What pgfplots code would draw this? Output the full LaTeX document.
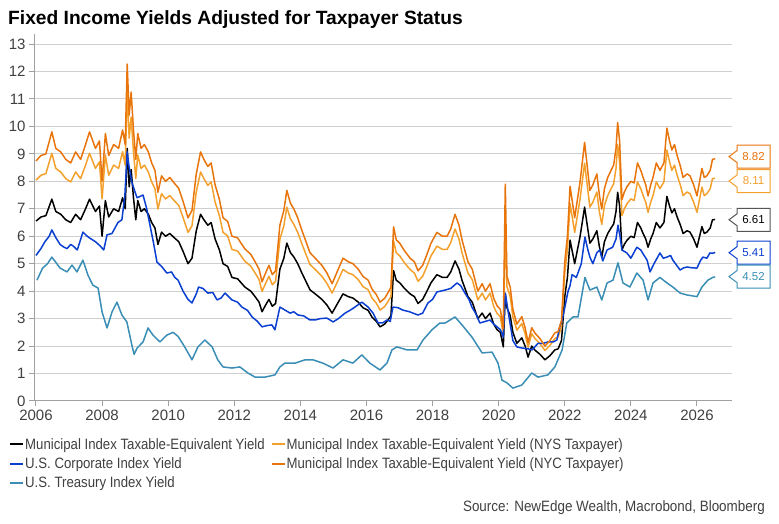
\documentclass[border=0pt]{standalone}
\usepackage{fontspec}
\setmainfont{Liberation Sans}
\newfontfamily\narrowfont{Liberation Sans}[FakeStretch=0.88]
\newfontfamily\srcfont{Liberation Sans}[FakeStretch=0.895]
\usepackage{pgfplots}
\pgfplotsset{compat=1.18}
\usepackage{pgfplotstable}

\definecolor{nysorange}{HTML}{F4A02C}
\definecolor{nycorange}{HTML}{E8740C}
\definecolor{corpblue}{HTML}{0B3FD1}
\definecolor{tsyteal}{HTML}{3A8EB5}
\definecolor{txt}{HTML}{404040}
\definecolor{gridc}{HTML}{CFCFCF}
\definecolor{axisc}{HTML}{A0A0A0}
\definecolor{boxgray}{HTML}{555555}

\pgfplotstableread{
year muni nys nyc
2006.00 6.55 8.04 8.74
2006.15 6.70 8.22 8.94
2006.30 6.75 8.28 9.00
2006.48 7.35 9.02 9.80
2006.60 6.90 8.47 9.20
2006.75 6.80 8.34 9.07
2006.90 6.60 8.10 8.80
2007.05 6.50 7.98 8.67
2007.20 6.80 8.34 9.07
2007.35 6.60 8.10 8.80
2007.50 7.00 8.59 9.34
2007.62 7.35 9.02 9.80
2007.80 6.90 8.47 9.20
2007.92 7.10 8.71 9.47
2008.00 6.00 7.36 8.00
2008.10 7.30 8.96 9.74
2008.20 6.70 8.22 8.94
2008.35 7.00 8.59 9.34
2008.50 6.90 8.47 9.20
2008.62 7.40 9.08 9.87
2008.70 7.00 8.59 9.34
2008.76 9.20 11.29 12.27
2008.82 7.80 9.57 10.41
2008.88 8.43 10.34 11.25
2008.95 7.40 9.08 9.87
2009.02 6.60 8.10 8.80
2009.08 7.30 8.96 9.74
2009.18 6.90 8.47 9.20
2009.28 7.00 8.59 9.34
2009.40 6.80 8.34 9.07
2009.50 6.50 7.98 8.67
2009.60 6.30 7.73 8.40
2009.69 5.70 6.99 7.60
2009.80 6.15 7.55 8.20
2009.92 6.00 7.36 8.00
2010.05 6.10 7.48 8.14
2010.18 5.95 7.30 7.94
2010.32 5.80 7.12 7.74
2010.45 5.45 6.69 7.27
2010.60 5.00 6.14 6.67
2010.72 5.20 6.38 6.94
2010.85 6.20 7.61 8.27
2010.98 6.80 8.34 9.07
2011.08 6.60 8.10 8.80
2011.20 6.40 7.85 8.54
2011.30 6.50 7.98 8.67
2011.42 5.90 7.24 7.87
2011.55 5.50 6.75 7.34
2011.66 5.00 6.14 6.67
2011.80 4.90 6.01 6.54
2011.93 4.50 5.52 6.00
2012.10 4.45 5.46 5.94
2012.32 4.15 5.09 5.54
2012.50 4.00 4.91 5.34
2012.63 3.80 4.66 5.07
2012.75 3.60 4.42 4.80
2012.84 3.25 3.99 4.34
2012.95 3.50 4.29 4.67
2013.05 3.70 4.54 4.94
2013.15 3.45 4.23 4.60
2013.25 3.55 4.36 4.74
2013.38 4.80 5.89 6.40
2013.50 5.20 6.38 6.94
2013.59 5.75 7.06 7.67
2013.70 5.40 6.63 7.20
2013.80 5.25 6.44 7.00
2013.92 5.00 6.14 6.67
2014.05 4.65 5.71 6.20
2014.15 4.40 5.40 5.87
2014.29 4.05 4.97 5.40
2014.45 3.90 4.79 5.20
2014.65 3.70 4.54 4.94
2014.80 3.50 4.29 4.67
2014.96 3.20 3.93 4.27
2015.10 3.50 4.29 4.67
2015.29 3.90 4.79 5.20
2015.45 3.80 4.66 5.07
2015.59 3.75 4.60 5.00
2015.75 3.60 4.42 4.80
2015.89 3.40 4.17 4.54
2016.05 3.30 4.05 4.40
2016.17 3.05 3.74 4.07
2016.30 2.90 3.56 3.87
2016.41 2.70 3.31 3.60
2016.55 2.80 3.44 3.74
2016.65 2.95 3.62 3.94
2016.74 3.10 3.80 4.14
2016.82 4.75 5.83 6.34
2016.90 4.40 5.40 5.87
2017.01 4.30 5.28 5.74
2017.15 4.10 5.03 5.47
2017.32 3.90 4.79 5.20
2017.45 3.80 4.66 5.07
2017.56 3.55 4.36 4.74
2017.70 3.70 4.54 4.94
2017.83 4.00 4.91 5.34
2017.95 4.30 5.28 5.74
2018.13 4.60 5.64 6.14
2018.30 4.50 5.52 6.00
2018.44 4.50 5.52 6.00
2018.55 4.70 5.77 6.27
2018.68 5.10 6.26 6.80
2018.80 4.80 5.89 6.40
2018.89 4.40 5.40 5.87
2019.07 3.80 4.66 5.07
2019.20 3.60 4.42 4.80
2019.37 3.00 3.68 4.00
2019.50 3.20 3.93 4.27
2019.60 3.00 3.68 4.00
2019.74 3.20 3.93 4.27
2019.85 2.80 3.44 3.74
2019.95 2.60 3.19 3.47
2020.05 2.50 3.07 3.34
2020.14 1.97 2.42 2.63
2020.20 3.90 6.40 7.90
2020.25 3.40 4.17 4.54
2020.35 3.10 3.80 4.14
2020.43 2.50 3.07 3.34
2020.55 2.10 2.58 2.80
2020.70 2.30 2.82 3.07
2020.80 2.00 2.45 2.67
2020.89 1.60 1.96 2.13
2021.00 2.00 2.45 2.67
2021.10 1.85 2.27 2.47
2021.25 1.70 2.09 2.27
2021.40 1.50 1.84 2.00
2021.55 1.65 2.02 2.20
2021.70 1.86 2.28 2.48
2021.80 1.90 2.33 2.53
2021.90 2.20 2.70 2.93
2022.00 3.80 4.66 5.07
2022.08 4.50 5.52 6.00
2022.16 5.86 7.19 7.82
2022.30 5.00 6.14 6.67
2022.46 5.97 7.33 7.96
2022.60 7.06 8.66 9.42
2022.68 6.40 7.85 8.54
2022.76 5.75 7.06 7.67
2022.85 5.90 7.24 7.87
2022.97 6.20 7.61 8.27
2023.05 5.60 6.87 7.47
2023.12 5.24 6.43 6.99
2023.20 5.80 7.12 7.74
2023.30 6.10 7.48 8.14
2023.40 6.30 7.73 8.40
2023.48 6.45 7.91 8.60
2023.55 6.90 8.47 9.20
2023.60 7.60 9.33 10.14
2023.66 7.10 8.71 9.47
2023.73 5.50 6.75 7.34
2023.80 5.70 6.99 7.60
2023.88 5.85 7.18 7.80
2024.00 6.00 7.36 8.00
2024.10 5.95 7.30 7.94
2024.20 6.50 7.98 8.67
2024.30 6.30 7.73 8.40
2024.37 6.10 7.48 8.14
2024.45 5.90 7.24 7.87
2024.52 5.60 6.87 7.47
2024.60 5.90 7.24 7.87
2024.67 6.10 7.48 8.14
2024.77 6.50 7.98 8.67
2024.88 6.30 7.73 8.40
2025.00 6.50 7.98 8.67
2025.09 7.45 9.14 9.94
2025.17 7.10 8.71 9.47
2025.24 6.85 8.40 9.14
2025.32 7.00 8.59 9.34
2025.40 6.70 8.22 8.94
2025.50 6.40 7.85 8.54
2025.58 6.10 7.48 8.14
2025.70 6.20 7.61 8.27
2025.79 6.15 7.55 8.20
2025.90 5.90 7.24 7.87
2026.00 5.60 6.87 7.47
2026.08 6.00 7.36 8.00
2026.15 6.35 7.79 8.47
2026.22 6.10 7.48 8.14
2026.30 6.15 7.55 8.20
2026.40 6.30 7.73 8.40
2026.47 6.60 8.10 8.80
2026.55 6.61 8.11 8.82
}\munitable

\pgfplotstableread{
year corp
2006.00 5.30
2006.15 5.55
2006.27 5.80
2006.40 6.00
2006.48 6.23
2006.60 5.95
2006.73 5.70
2006.85 5.60
2006.94 5.55
2007.05 5.70
2007.12 5.65
2007.25 5.50
2007.42 6.15
2007.55 6.00
2007.63 5.93
2007.80 5.80
2007.94 5.65
2008.05 5.50
2008.15 6.05
2008.30 6.10
2008.48 6.50
2008.60 6.60
2008.69 7.50
2008.76 9.07
2008.82 8.50
2008.90 7.97
2009.00 7.60
2009.06 7.40
2009.24 7.50
2009.35 7.00
2009.45 6.40
2009.55 5.80
2009.66 5.06
2009.80 4.90
2009.96 4.66
2010.10 4.70
2010.20 4.50
2010.30 4.40
2010.45 4.00
2010.60 3.70
2010.72 3.57
2010.85 3.90
2010.92 4.15
2011.05 4.10
2011.20 3.93
2011.35 3.95
2011.48 3.68
2011.60 3.75
2011.72 3.93
2011.93 3.68
2012.10 3.60
2012.23 3.42
2012.40 3.30
2012.54 3.06
2012.70 2.90
2012.84 2.70
2013.00 2.75
2013.14 2.77
2013.23 2.59
2013.38 3.42
2013.55 3.30
2013.69 3.20
2013.80 3.25
2013.93 3.13
2014.10 3.10
2014.29 2.95
2014.45 2.95
2014.60 3.00
2014.80 3.02
2014.99 2.88
2015.15 3.00
2015.35 3.20
2015.50 3.30
2015.65 3.42
2015.86 3.60
2016.05 3.42
2016.20 3.20
2016.35 2.84
2016.50 2.85
2016.62 2.95
2016.72 2.90
2016.80 3.42
2016.95 3.40
2017.10 3.31
2017.30 3.25
2017.56 3.13
2017.70 3.20
2017.86 3.57
2018.00 3.70
2018.13 3.97
2018.38 4.04
2018.55 4.10
2018.74 4.30
2018.85 4.20
2018.98 3.93
2019.10 3.70
2019.19 3.42
2019.30 3.20
2019.43 2.84
2019.60 2.90
2019.74 2.95
2019.85 2.80
2019.95 2.70
2020.05 2.60
2020.14 2.33
2020.20 3.93
2020.28 3.30
2020.43 2.20
2020.55 1.97
2020.70 1.93
2020.89 1.90
2021.01 1.86
2021.19 2.10
2021.35 2.10
2021.49 2.15
2021.65 2.15
2021.76 2.22
2021.85 2.70
2021.92 2.95
2022.00 3.40
2022.10 4.00
2022.16 4.20
2022.22 4.60
2022.35 4.50
2022.50 5.00
2022.61 5.97
2022.70 5.50
2022.76 5.24
2022.85 5.00
2022.97 5.40
2023.06 5.50
2023.15 5.10
2023.28 5.50
2023.45 5.60
2023.55 5.90
2023.61 6.40
2023.67 6.00
2023.73 5.50
2023.88 5.39
2024.00 5.20
2024.18 5.60
2024.30 5.50
2024.40 5.30
2024.49 5.13
2024.58 4.70
2024.70 5.00
2024.88 5.39
2024.98 5.20
2025.09 5.24
2025.20 5.30
2025.27 5.13
2025.38 4.95
2025.49 4.77
2025.60 4.85
2025.70 4.88
2025.85 4.85
2026.00 4.84
2026.10 5.10
2026.18 5.24
2026.30 5.20
2026.39 5.39
2026.48 5.38
2026.55 5.41
}\corptable

\pgfplotstableread{
year tsy
2006.03 4.40
2006.20 4.84
2006.35 5.00
2006.48 5.24
2006.60 5.05
2006.73 4.84
2006.94 4.70
2007.09 4.95
2007.24 4.70
2007.42 5.13
2007.57 4.59
2007.72 4.22
2007.88 4.11
2008.00 3.24
2008.15 2.66
2008.30 3.24
2008.45 3.60
2008.60 3.13
2008.75 2.88
2008.90 2.04
2008.97 1.70
2009.06 1.93
2009.24 2.15
2009.39 2.66
2009.54 2.40
2009.75 2.15
2009.96 2.40
2010.15 2.50
2010.30 2.35
2010.50 1.97
2010.72 1.50
2010.90 1.97
2011.11 2.22
2011.33 1.97
2011.50 1.50
2011.66 1.24
2011.93 1.20
2012.17 1.24
2012.41 1.02
2012.63 0.87
2012.93 0.87
2013.23 0.95
2013.38 1.24
2013.53 1.38
2013.84 1.38
2014.14 1.50
2014.38 1.50
2014.68 1.38
2014.99 1.20
2015.29 1.50
2015.59 1.38
2015.86 1.68
2016.10 1.38
2016.41 1.13
2016.62 1.38
2016.77 1.86
2016.92 1.97
2017.23 1.86
2017.53 1.86
2017.71 2.22
2017.98 2.59
2018.22 2.84
2018.38 2.84
2018.68 3.06
2018.89 2.77
2019.19 2.33
2019.50 1.75
2019.80 1.78
2019.98 1.38
2020.10 0.76
2020.25 0.66
2020.43 0.47
2020.70 0.58
2021.00 1.02
2021.19 0.87
2021.49 0.95
2021.70 1.24
2021.92 1.86
2022.06 2.84
2022.25 3.06
2022.40 3.06
2022.61 4.50
2022.76 4.04
2022.97 4.15
2023.12 3.68
2023.28 4.30
2023.46 4.40
2023.61 5.03
2023.76 4.30
2023.97 4.15
2024.18 4.66
2024.37 4.40
2024.52 3.68
2024.67 4.30
2024.88 4.50
2025.09 4.30
2025.27 4.15
2025.49 3.93
2025.70 3.86
2026.00 3.80
2026.15 4.15
2026.33 4.40
2026.48 4.50
2026.55 4.52
}\tsytable

\newcommand\vlab[4]{%
  \draw[#1, line width=1pt, fill=white] (axis cs:2026.97,#2) -- ++(8pt,6pt) -- ++(0pt,5.5pt) -- ++(33pt,0pt) -- ++(0pt,-23pt) -- ++(-33pt,0pt) -- ++(0pt,5.5pt) -- cycle;
  \node[text=#3, font=\fontsize{11.5}{13}\selectfont, inner sep=0pt] at ([xshift=24.5pt]axis cs:2026.97,#2) {#4};
}

\begin{document}
\begin{tikzpicture}
\path[use as bounding box] (0pt,0pt) rectangle (779pt,524pt);
\node[anchor=base west, inner sep=0pt, font=\bfseries\fontsize{19.2}{22}\selectfont] at (8pt,499.5pt) {Fixed Income Yields Adjusted for Taxpayer Status};
\begin{axis}[
  at={(34pt,123pt)}, anchor=south west,
  scale only axis, width=698pt, height=366.6pt,
  xmin=2005.94, xmax=2027.06, ymin=0, ymax=13.35,
  xtick={2006,2008,...,2026}, ytick={0,1,...,13},
  /pgf/number format/assume math mode=true,
  /pgf/number format/1000 sep={},
  axis x line*=bottom, axis y line*=left,
  axis line style={axisc, line width=1pt, -},
  tick align=outside, major tick length=5pt,
  tick style={axisc, line width=1pt},
  ymajorgrids, grid style={gridc, line width=1pt},
  ticklabel style={font=\fontsize{15}{18}\selectfont, text=txt},
  clip=false,
  legend columns=2,
  legend cell align=left,
  legend image code/.code={\draw[#1, line width=2pt] (0pt,0pt) -- (13pt,0pt);},
  legend style={at={(0,0)}, anchor=north west, xshift=-25pt, yshift=-36pt,
    draw=none, fill=none, inner sep=0pt, row sep=5pt,
    font=\narrowfont\fontsize{15}{18}\selectfont, text=txt,
    nodes={inner sep=1pt},
    /tikz/every even column/.append style={column sep=5pt}},
]
\addplot[black, line width=1.5pt, line join=round] table[x=year, y=muni] {\munitable};
\addlegendentry{Municipal Index Taxable-Equivalent Yield}
\addplot[nysorange, line width=1.5pt, line join=round] table[x=year, y=nys] {\munitable};
\addlegendentry{Municipal Index Taxable-Equivalent Yield (NYS Taxpayer)}
\addplot[corpblue, line width=1.5pt, line join=round] table[x=year, y=corp] {\corptable};
\addlegendentry{U.S. Corporate Index Yield}
\addplot[nycorange, line width=1.5pt, line join=round] table[x=year, y=nyc] {\munitable};
\addlegendentry{Municipal Index Taxable-Equivalent Yield (NYC Taxpayer)}
\addplot[tsyteal, line width=1.5pt, line join=round] table[x=year, y=tsy] {\tsytable};
\addlegendentry{U.S. Treasury Index Yield}
\vlab{nycorange}{8.90}{nycorange}{8.82}
\vlab{nysorange}{8.01}{nysorange}{8.11}
\vlab{boxgray}{6.60}{black}{6.61}
\vlab{corpblue}{5.40}{corpblue}{5.41}
\vlab{tsyteal}{4.53}{tsyteal}{4.52}
\end{axis}
\node[anchor=base east, inner sep=0pt, font=\srcfont\fontsize{15}{18}\selectfont, text=txt] at (765pt,12.5pt) {Source: NewEdge Wealth, Macrobond, Bloomberg};
\end{tikzpicture}
\end{document}
